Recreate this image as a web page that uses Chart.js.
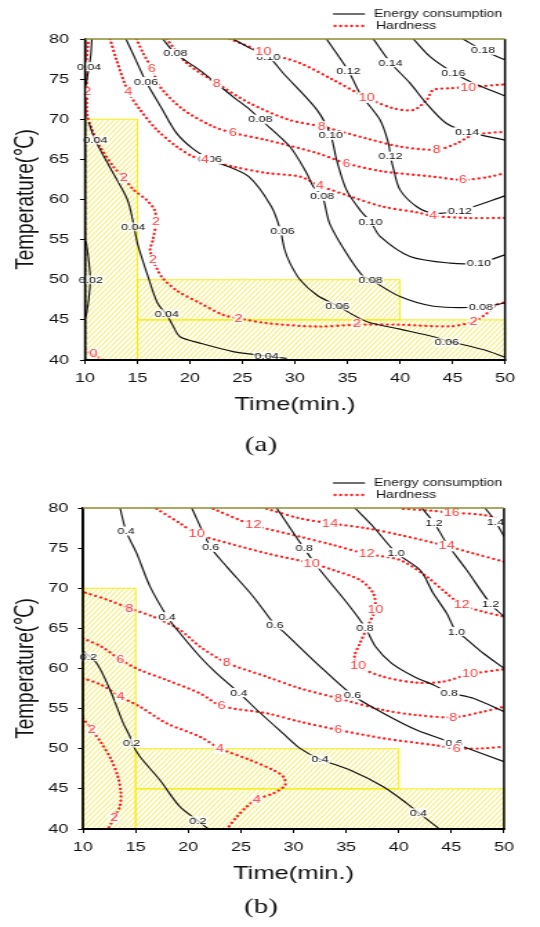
<!DOCTYPE html>
<html><head><meta charset="utf-8">
<script src="https://cdn.jsdelivr.net/npm/chart.js@4/dist/chart.umd.min.js"></script>
<style>
html,body{margin:0;padding:0;background:#fff;}
body{width:540px;height:927px;position:relative;overflow:hidden;}
canvas{position:absolute;left:0;}
</style></head><body>
<canvas id="ca" width="391" height="463" style="top:0;width:540px;height:463px"></canvas>
<canvas id="cb" width="391" height="464" style="top:463px;width:540px;height:464px"></canvas>
<script>
// ---------- data ----------
const timeTicks = [10,15,20,25,30,35,40,45,50];
const tempTicks = [40,45,50,55,60,65,70,75,80];
const seriesNames = ['Energy consumption','Hardness'];
const captions = ['(a)','(b)'];
const zonesA = [[10,15,40,70],[15,40,45,50],[15,50,40,45]];
const zonesB = [[10,15,40,70],[15,40,45,50],[15,50,40,45]];

const energyA = [
 {level:'0.02',pts:[[10.1,54.8],[10.35,52.5],[10.5,50],[10.35,47.5],[10.1,45.4]]},
 {level:'0.04',pts:[[10.65,80],[10.55,78],[10.38,76.5],[10.1,74.3]]},
 {level:'0.04',pts:[[10.36,69.6],[10.97,67.4],[12.5,63.7],[14.03,60],[14.6,57.1],[15.0,54.5],[16.0,50.4],[16.9,47.1],[17.8,45.6],[18.4,44.2],[19.05,42.9],[20.95,42.1],[24.1,41.05],[27.3,40.5],[29.2,40.2]]},
 {level:'0.06',pts:[[13.9,80],[14.8,77.5],[15.8,74.7],[17.2,71.6],[18.7,68.3],[20.2,66.4],[21.9,65.0],[22.9,64.5],[25.6,62.85],[27.76,59.1],[28.6,56.2],[29.0,53.8],[29.52,52.07],[30.48,50],[32.07,48.1],[34.03,46.75],[36.8,44.8],[40,43.85],[43.2,42.9],[44.45,42.4],[47.9,41.3],[50,40.35]]},
 {level:'0.08',pts:[[17.4,80],[18.6,78.2],[20.95,76.1],[24.1,72.8],[25.7,71.2],[26.7,70.0],[29.5,66.6],[31.1,63.3],[31.75,61.6],[32.6,60.4],[33.3,57.0],[34.9,53.3],[36.5,50.4],[37.2,50.0],[40.0,47.9],[43.2,46.7],[47.7,46.6],[50,47.1]]},
 {level:'0.10',pts:[[24.1,80],[25.8,78.8],[27.46,77.8],[28.9,75.7],[32.07,71.2],[33.4,68.0],[33.97,64.9],[34.9,61.2],[36.3,58.5],[37.2,57.25],[38.1,55.4],[40.95,52.9],[44.76,52.07],[47.5,52.1],[50,53.1]]},
 {level:'0.12',pts:[[33.0,80],[35.08,76.05],[36.2,73.2],[38.1,69.9],[38.9,67.0],[39.1,65.4],[39.4,63.7],[40,61.2],[41.6,59.1],[43.2,58.3],[45.7,58.6],[50,60.45]]},
 {level:'0.14',pts:[[37.46,80],[39.1,77.05],[40.95,74.5],[42.5,72.0],[44.4,69.5],[46.4,68.45],[50,67.4]]},
 {level:'0.16',pts:[[41.27,80],[42.86,77.8],[45.08,75.8],[47.0,74.5],[50,72.9]]},
 {level:'0.18',pts:[[46.0,80],[47.9,78.6],[50,77.4]]}
];
const hardnessA = [
 {level:'0',pts:[[10.0,41.3],[10.5,40.9],[11.7,40.0]]},
 {level:'2',pts:[[10.3,79.5],[10.1,76.5],[10.2,73.4],[10.2,70.6],[10.67,68.7],[11.43,66.6],[12.7,64.1],[13.7,62.7],[14.64,61.2],[15.86,59.95],[16.62,58.7],[16.77,57.25],[16.47,55.0],[16.2,53.7],[16.47,52.5],[16.92,51.2],[17.4,50.2],[18.8,48.6],[20.95,47.1],[23.2,45.6],[24.6,45.2],[27.3,44.6],[32.07,44.17],[35.9,44.4],[40,44.4],[44.76,44.2],[47.0,44.8],[48.26,45.8],[49.2,46.9],[50,47.2]]},
 {level:'4',pts:[[12.38,80],[13.0,77.4],[14.12,73.4],[15.24,71.2],[16.83,68.7],[18.73,66.6],[20.3,65.35],[21.43,65.0],[24.1,64.1],[27.3,63.3],[30.48,62.85],[32.38,61.7],[35.24,60.4],[38.4,59.1],[41.6,58.4],[43.17,57.95],[46.35,57.7],[50,57.7]]},
 {level:'6',pts:[[14.9,80],[15.55,78.2],[16.35,76.35],[17.14,74.06],[19.36,71.2],[22.2,69.1],[24.1,68.3],[27.3,67.4],[32.07,65.8],[34.9,64.5],[38.4,63.5],[43.17,62.85],[46.0,62.45],[48.6,62.85],[50,63.3]]},
 {level:'8',pts:[[17.78,80],[19.68,77.0],[22.54,74.5],[25.7,72.0],[29.5,69.9],[32.54,69.1],[36.83,67.6],[40,66.6],[43.5,66.2],[45.4,67.0],[47.0,68.05],[50,68.45]]},
 {level:'10',pts:[[23.8,80],[26.98,78.4],[30.48,77.0],[33.65,74.9],[36.83,72.7],[39.36,71.37],[41.27,71.16],[42.54,72.4],[43.17,73.65],[44.76,73.86],[46.5,74.0],[50,74.35]]}
];
const energyLabelsA = [
 ['0.04',10.38,76.55],['0.04',10.97,67.4],['0.04',14.6,56.6],['0.04',17.8,45.75],['0.04',27.3,40.5],
 ['0.02',10.56,50.0],
 ['0.06',15.8,74.7],['0.06',21.9,65.0],['0.06',28.8,56.1],['0.06',34.03,46.75],['0.06',44.45,42.2],
 ['0.08',18.6,78.2],['0.08',26.7,70.0],['0.08',32.6,60.4],['0.08',37.2,50.0],['0.08',47.7,46.6],
 ['0.10',27.46,77.8],['0.10',33.4,68.0],['0.10',37.2,57.25],['0.10',47.5,52.1],
 ['0.12',35.08,76.05],['0.12',39.1,65.4],['0.12',45.7,58.6],
 ['0.14',39.1,77.05],['0.14',46.4,68.45],
 ['0.16',45.08,75.8],['0.18',47.9,78.6]
];
const hardnessLabelsA = [
 ['0',10.8,40.85],
 ['2',10.2,73.4],['2',13.7,62.7],['2',16.77,57.25],['2',16.47,52.5],['2',24.6,45.2],['2',35.9,44.5],['2',47.0,44.8],
 ['4',14.12,73.4],['4',21.43,65.0],['4',32.38,61.7],['4',43.17,57.95],
 ['6',16.35,76.35],['6',24.1,68.3],['6',34.9,64.5],['6',46.0,62.45],
 ['8',22.54,74.5],['8',32.54,69.1],['8',43.5,66.2],
 ['10',26.98,78.4],['10',36.83,72.7],['10',46.5,74.0]
];

const energyB = [
 {level:'0.2',pts:[[10.0,62.2],[11.3,60.65],[12.57,57.32],[13.83,53.17],[14.47,51.5],[14.63,50.7],[15.42,49.0],[17.3,46.1],[19.2,42.78],[20.9,41.05],[21.9,40.0]]},
 {level:'0.4',pts:[[13.52,80],[14.09,77.13],[15.1,74.35],[16.37,70.2],[18.0,66.46],[18.9,64.9],[21.12,61.47],[22.7,59.4],[24.8,57.0],[26.53,54.83],[29.0,51.92],[30.62,50.05],[32.52,48.7],[35.37,47.35],[38.53,45.27],[40.76,43.2],[41.86,42.03],[43.92,39.96]]},
 {level:'0.6',pts:[[20.33,80],[22.13,75.1],[23.65,72.7],[26.18,68.95],[28.24,65.42],[29.03,64.6],[32.2,60.65],[35.6,56.7],[38.53,54.42],[41.7,52.33],[45.25,50.68],[50,48.39]]},
 {level:'0.8',pts:[[28.4,80],[31.0,74.97],[32.52,72.27],[35.37,67.7],[36.86,65.0],[37.8,62.72],[39.33,60.65],[41.47,58.98],[43.31,57.94],[44.82,57.0],[47.08,56.28],[50,54.62]]},
 {level:'1.0',pts:[[35.84,80],[37.58,77.67],[39.74,74.43],[42.02,72.27],[43.28,69.37],[44.55,66.88],[45.44,64.59],[46.14,63.97],[48.03,61.9],[50,60.02]]},
 {level:'1.2',pts:[[42.18,80],[43.35,78.17],[44.55,75.6],[46.45,72.27],[48.73,68.04],[50,66.46]]},
 {level:'1.4',pts:[[48.2,80],[49.2,78.3],[50,76.43]]}
];
const hardnessB = [
 {level:'2',pts:[[10.0,53.8],[10.84,52.34],[11.77,50.68],[12.69,48.6],[13.3,46.6],[13.6,44.5],[13.5,42.8],[12.95,41.4],[12.4,40.05]]},
 {level:'4',pts:[[10.0,58.8],[11.77,57.94],[13.55,56.49],[15.42,55.24],[17.95,53.17],[21.12,51.5],[23.0,50.05],[25.87,48.6],[28.08,47.35],[29.03,46.52],[29.2,45.48],[28.08,44.44],[26.5,43.7],[25.55,42.78],[24.6,41.5],[23.8,40.2]]},
 {level:'6',pts:[[10.0,63.76],[11.77,62.72],[13.55,61.1],[15.42,59.81],[17.95,58.57],[21.12,56.9],[23.18,55.33],[27.45,54.42],[30.62,53.37],[34.26,52.34],[38.53,51.3],[43.28,50.47],[45.5,50.05],[48.03,50.05],[50,50.26]]},
 {level:'8',pts:[[10.23,69.45],[12.38,68.54],[14.42,67.5],[16.68,66.46],[19.22,64.8],[21.12,62.72],[23.65,60.72],[27.45,58.98],[30.62,57.53],[34.26,56.28],[38.53,54.83],[41.7,54.2],[45.18,53.92],[48.03,54.62],[50,55.24]]},
 {level:'10',pts:[[17.0,79.9],[19.22,78.09],[20.8,76.76],[22.7,76.01],[27.45,74.35],[31.73,73.1],[33.78,72.27],[36.32,71.03],[37.58,69.37],[37.74,67.38],[37.03,65.21],[36.3,63.1],[35.8,61.5],[36.16,60.3],[38.53,58.98],[41.7,58.23],[44.23,58.36],[46.77,59.31],[50,59.9]]},
 {level:'12',pts:[[22.38,79.9],[26.18,77.88],[30.62,76.43],[33.78,75.39],[36.96,74.27],[40.12,73.52],[42.66,71.44],[44.55,69.37],[45.98,67.91],[48.03,67.08],[50,66.46]]},
 {level:'14',pts:[[27.45,79.9],[30.62,78.71],[33.47,78.09],[36.96,77.47],[40.12,76.64],[44.55,75.26],[47.08,74.35],[50,73.31]]},
 {level:'16',pts:[[40.43,79.9],[42.97,79.67],[45.03,79.42],[48.03,79.13],[50,78.5]]}
];
const energyLabelsB = [
 ['0.2',10.5,61.47],['0.2',14.6,50.7],['0.2',20.9,41.05],
 ['0.4',14.09,77.13],['0.4',18.0,66.46],['0.4',24.8,57.0],['0.4',32.52,48.7],['0.4',41.86,42.03],
 ['0.6',22.13,75.1],['0.6',28.24,65.42],['0.6',35.6,56.7],['0.6',45.25,50.68],
 ['0.8',31.0,74.97],['0.8',36.8,65.05],['0.8',44.8,57.0],
 ['1.0',39.74,74.43],['1.0',45.48,64.6],
 ['1.2',43.35,78.17],['1.2',48.73,68.04],['1.4',49.2,78.3]
];
const hardnessLabelsB = [
 ['2',10.84,52.34],['2',12.95,41.4],
 ['4',13.55,56.49],['4',23.0,50.05],['4',26.5,43.7],
 ['6',13.55,61.1],['6',23.18,55.33],['6',34.26,52.34],['6',45.5,50.05],
 ['8',14.42,67.5],['8',23.65,60.72],['8',34.26,56.28],['8',45.18,53.92],
 ['10',20.8,76.76],['10',31.73,73.1],['10',37.77,67.38],['10',36.14,60.37],['10',46.77,59.31],
 ['12',26.18,77.88],['12',36.96,74.27],['12',45.98,67.91],
 ['14',33.47,78.09],['14',44.55,75.26],
 ['16',45.03,79.42]
];

// ---------- layout (reference pixels) ----------
const S = 540/391;   // horizontal stretch of the original figure
const layoutA = {pageTop:0,   h:463, plotL:85, plotR:505, plotT:39,  plotB:360, yTickRight:69.0, capY:445};
const layoutB = {pageTop:463, h:464, plotL:83, plotR:504, plotT:508, plotB:829, yTickRight:68.3, capY:907};
const FAM = "'Liberation Sans', Arial, 'DejaVu Sans', sans-serif";
const BLACK = '#111111', RED = '#ff1e1e', RED_TXT = '#ff3a3a';
const DOTS = [0.1, 3.9];

function build(canvasId, L, eLines, hLines, eLabels, hLabels, zones, caption){
  const W = 391;
  const top = L.plotT - L.pageTop, bottom = L.plotB - L.pageTop;
  const left = L.plotL / S, right = L.plotR / S;
  const yTickLen = 3.6, xTickLen = 4;
  const yPad = left - yTickLen - L.yTickRight / S;

  const datasets = [];
  eLines.forEach(l => datasets.push({label:'E '+l.level, data:l.pts.map(p=>({x:p[0],y:p[1]})), showLine:true,
    borderColor:BLACK, borderWidth:1.15, pointRadius:0, pointHoverRadius:0, tension:0.3}));
  hLines.forEach(l => datasets.push({label:'H '+l.level, data:l.pts.map(p=>({x:p[0],y:p[1]})), showLine:true,
    borderColor:RED, borderWidth:2.3, borderDash:DOTS, borderCapStyle:'round', pointRadius:0, pointHoverRadius:0, tension:0.3}));

  const inZone = (vx,vy) => zones.some(z => vx>=z[0] && vx<=z[1] && vy>=z[2] && vy<=z[3]);

  function drawLabels(ctx, xs, ys, list, size, color){
    ctx.font = size + 'px ' + FAM;
    ctx.textAlign = 'center'; ctx.textBaseline = 'middle';
    list.forEach(([t,vx,vy]) => {
      const px = xs.getPixelForValue(vx), py = ys.getPixelForValue(vy);
      const w = ctx.measureText(t).width;
      ctx.fillStyle = inZone(vx,vy) ? 'rgba(255,255,255,0.7)' : '#fff';
      ctx.fillRect(px - w/2 - 1, py - size*0.5, w + 2, size);
      ctx.fillStyle = color;
      ctx.fillText(t, px, py + 0.5);
    });
  }

  const decor = {
    id: 'decor_' + canvasId,
    beforeDatasetsDraw(chart){
      const {ctx, scales:{x, y}} = chart;
      const k = 1 / S, step = 5.2 / S;
      zones.forEach(z => {
        const x1 = x.getPixelForValue(z[0]), x2 = x.getPixelForValue(z[1]);
        const y1 = y.getPixelForValue(z[3]), y2 = y.getPixelForValue(z[2]);
        ctx.save();
        ctx.beginPath(); ctx.rect(x1, y1, x2-x1, y2-y1); ctx.clip();
        ctx.strokeStyle = 'rgba(238,226,0,0.9)'; ctx.lineWidth = 0.75;
        ctx.beginPath();
        const uMin = x1 + y1*k, uMax = x2 + y2*k;
        for (let n = Math.floor(uMin/step); n*step <= uMax; n++){
          const u = n*step;
          ctx.moveTo(u - y2*k, y2); ctx.lineTo(u - y1*k, y1);
        }
        ctx.stroke();
        ctx.restore();
        ctx.save();
        ctx.strokeStyle = '#f4ee10'; ctx.lineWidth = 1;
        ctx.strokeRect(x1, y1, x2-x1, y2-y1);
        ctx.restore();
      });
    },
    afterDatasetsDraw(chart){
      const {ctx, scales:{x, y}} = chart;
      ctx.save();
      drawLabels(ctx, x, y, eLabels, 9, BLACK);
      drawLabels(ctx, x, y, hLabels, 10.5, RED_TXT);
      ctx.restore();
    },
    afterDraw(chart){
      const {ctx, chartArea:a} = chart;
      ctx.save();
      // frame
      ctx.strokeStyle = '#000';
      ctx.lineWidth = 1.5;
      ctx.beginPath(); ctx.moveTo(a.left, a.top); ctx.lineTo(a.left, a.bottom);
      ctx.moveTo(a.right, a.top); ctx.lineTo(a.right, a.bottom + 1); ctx.stroke();
      ctx.lineWidth = 2;
      ctx.beginPath(); ctx.moveTo(a.left - 0.7, a.bottom); ctx.lineTo(a.right + 0.7, a.bottom); ctx.stroke();
      ctx.strokeStyle = '#8c8c2c'; ctx.lineWidth = 1.4;
      ctx.beginPath(); ctx.moveTo(a.left, a.top); ctx.lineTo(a.right, a.top); ctx.stroke();
      // legend
      const ly1 = a.top - 25, ly2 = a.top - 13;
      ctx.strokeStyle = BLACK; ctx.lineWidth = 1.2; ctx.setLineDash([]);
      ctx.beginPath(); ctx.moveTo(333/S, ly1); ctx.lineTo(365/S, ly1); ctx.stroke();
      ctx.strokeStyle = RED; ctx.lineWidth = 2.3; ctx.lineCap = 'round'; ctx.setLineDash(DOTS);
      ctx.beginPath(); ctx.moveTo(335/S, ly2); ctx.lineTo(366/S, ly2); ctx.stroke();
      ctx.setLineDash([]);
      ctx.fillStyle = '#111'; ctx.font = '10.2px ' + FAM; ctx.textAlign = 'left'; ctx.textBaseline = 'middle';
      ctx.fillText(seriesNames[0], 374/S, ly1 + 0.5);
      ctx.fillText(seriesNames[1], 376/S, ly2 + 0.5);
      // caption
      ctx.font = '21px "Liberation Serif", "DejaVu Serif", serif';
      ctx.textAlign = 'center';
      ctx.fillText(caption, 261/S, L.capY - L.pageTop);
      ctx.restore();
    }
  };

  new Chart(document.getElementById(canvasId), {
    type: 'scatter',
    data: {datasets},
    options: {
      responsive: false, animation: false, devicePixelRatio: 1,
      layout: {padding: {left: 0, top: top, right: W - right, bottom: L.h - bottom - 60}},
      plugins: {legend: {display: false}, tooltip: {enabled: false}},
      scales: {
        x: {
          type: 'linear', min: 10, max: 50,
          afterBuildTicks: s => { s.ticks = timeTicks.map(v => ({value: v})); },
          afterFit: s => { s.height = 60; },
          grid: {drawOnChartArea: false, drawTicks: true, tickLength: xTickLen, color: '#000', lineWidth: 1},
          border: {display: true, color: '#000', width: 2},
          ticks: {font: {family: FAM, size: 13}, color: '#111', padding: 6.2, maxRotation: 0, autoSkip: false},
          title: {display: true, text: 'Time(min.)', color: '#111', font: {family: FAM, size: 18.5}, padding: {top: 0, bottom: 3.9}}
        },
        y: {
          type: 'linear', min: 40, max: 80,
          afterBuildTicks: s => { s.ticks = tempTicks.map(v => ({value: v})); },
          afterFit: s => { s.width = left; },
          grid: {drawOnChartArea: false, drawTicks: true, tickLength: yTickLen, color: '#000', lineWidth: 1},
          border: {display: true, color: '#000', width: 1.5},
          ticks: {font: {family: FAM, size: 13}, color: '#111', padding: yPad, autoSkip: false},
          title: {display: true, text: 'Temperature(℃)', color: '#111', font: {family: FAM, size: 19}, padding: {top: 7.1, bottom: 0}}
        }
      }
    },
    plugins: [decor]
  });
}

build('ca', layoutA, energyA, hardnessA, energyLabelsA, hardnessLabelsA, zonesA, captions[0]);
build('cb', layoutB, energyB, hardnessB, energyLabelsB, hardnessLabelsB, zonesB, captions[1]);
</script>
</body></html>
